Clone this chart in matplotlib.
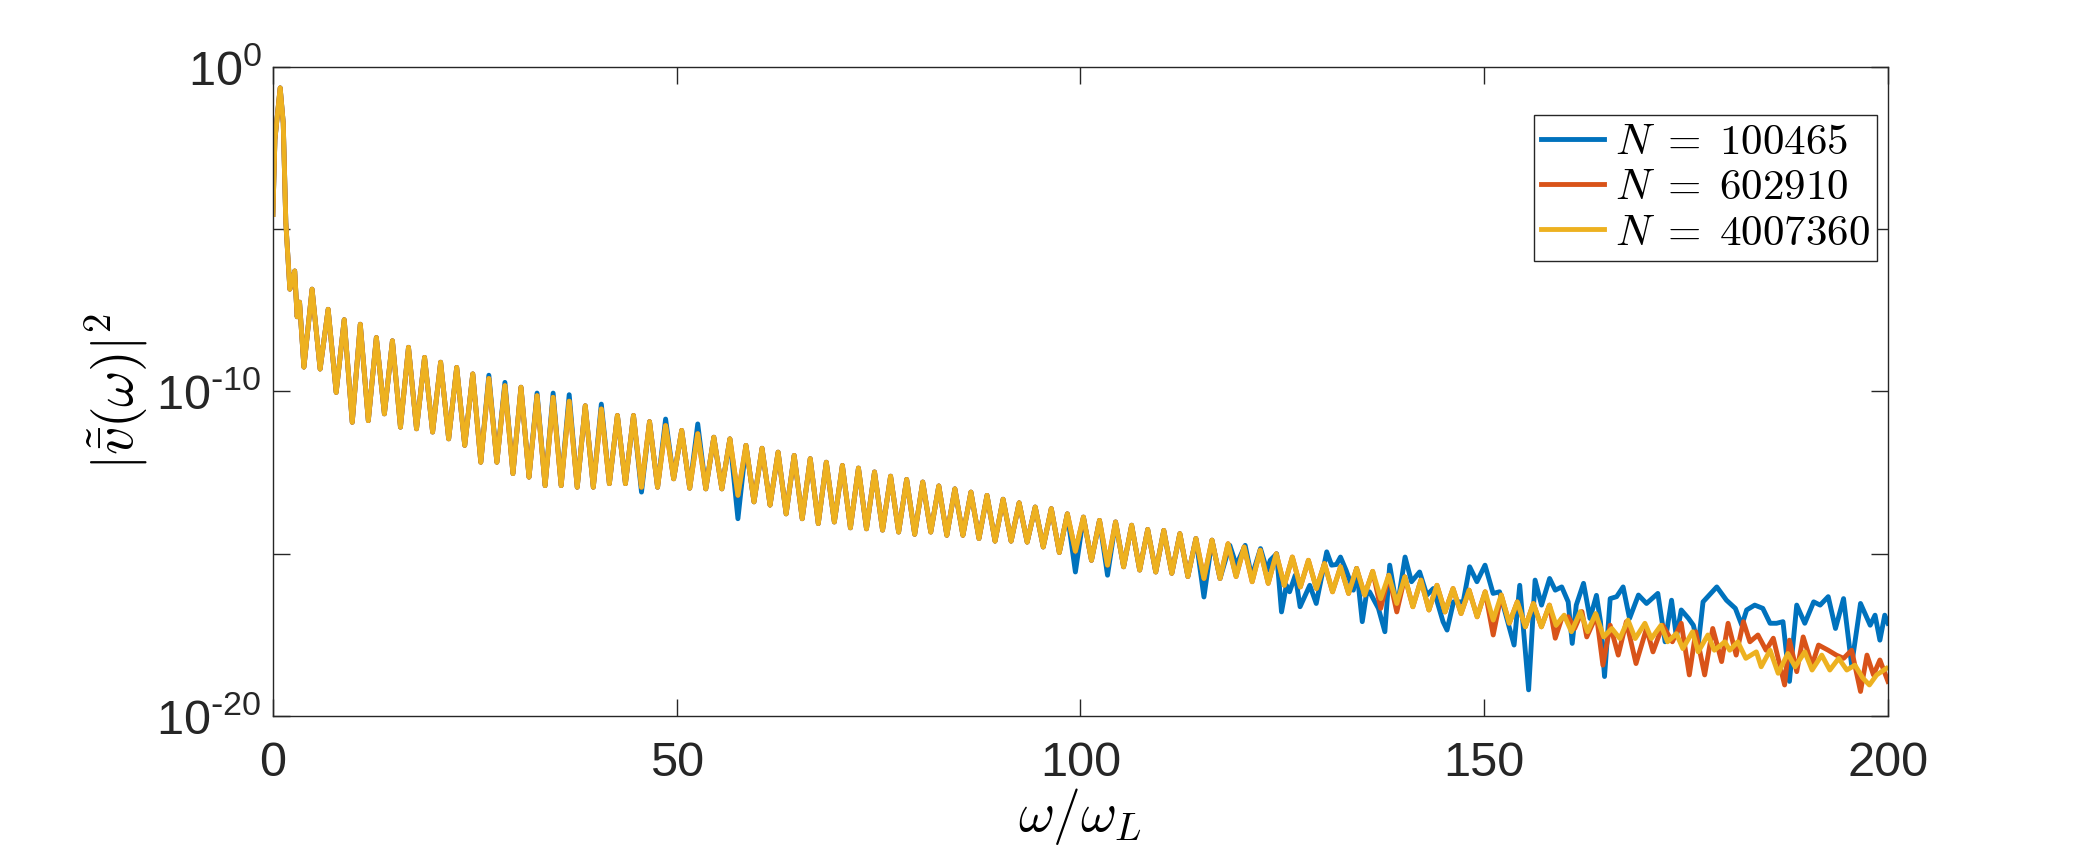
import matplotlib
matplotlib.use("Agg")
import matplotlib.pyplot as plt
import numpy as np

plt.rcParams['font.family'] = ['Liberation Sans', 'DejaVu Sans']

# --- data: log10 |v(w)|^2 ---
# steep start around the main peak
head_omega = [0.0, 0.25, 0.9, 1.28, 1.6, 2.1, 2.7, 3.0, 3.3, 3.84]
head_log = [-4.55, -2.24, -0.65, -1.73, -4.8, -6.85, -6.29, -7.7, -7.25, -9.25]

# oscillation maxima / minima (shared by all runs), spacing ~1.99 in w/w_L
peak_log = [-6.85, -7.47, -7.79, -7.93, -8.34, -8.44, -8.64, -8.95, -9.10, -9.26,
            -9.46, -9.60, -9.82, -9.87, -10.13, -10.18, -10.30, -10.44, -10.54, -10.74,
            -10.74, -10.93, -11.05, -11.20, -11.30, -11.41, -11.46, -11.66, -11.75, -11.87,
            -11.97, -12.07, -12.18, -12.28, -12.36, -12.48, -12.61, -12.71, -12.79, -12.91,
            -13.00, -13.10, -13.20, -13.32, -13.43, -13.56, -13.61, -13.77, -13.87, -13.97,
            -14.02, -14.12, -14.25, -14.28, -14.38, -14.53, -14.58, -14.69, -14.79, -14.89,
            -15.00, -15.10, -15.20, -15.30, -15.40, -15.45, -15.54, -15.66, -15.71, -15.81,
            -15.97, -16.07, -16.12, -16.17, -16.27, -16.48, -16.53, -16.58]
trough_log = [-9.31, -10.03, -10.95, -10.90, -10.69, -11.10, -11.15, -11.25, -11.46, -11.66,
              -12.18, -12.18, -12.53, -12.64, -12.90, -12.90, -12.95, -12.95, -12.84, -12.84,
              -12.95, -12.95, -12.69, -12.98, -13.00, -13.00, -13.20, -13.40, -13.50, -13.77,
              -13.92, -14.07, -14.02, -14.20, -14.23, -14.27, -14.33, -14.40, -14.33, -14.43,
              -14.43, -14.53, -14.61, -14.61, -14.64, -14.79, -14.96, -14.92, -15.20, -15.35,
              -15.40, -15.50, -15.56, -15.60, -15.70, -15.76, -15.76, -15.70, -15.86, -15.91,
              -15.97, -16.02, -16.07, -16.17, -16.22, -16.27, -16.38, -16.53, -16.63, -16.73,
              -16.79, -16.84, -16.94, -17.04, -17.14, -17.25, -17.25]
first_peak = 4.85
half_period = 0.995

# where N = 100465 departs from the others
blue_peak_fix = {11: -9.50, 12: -9.72, 14: -10.05, 15: -10.05, 16: -10.10,
                 18: -10.39, 22: -10.85, 24: -11.00}
blue_trough_fix = {20: -13.10, 26: -13.92, 47: -15.56, 49: -15.66, 55: -16.33}
red_trough_fix = {66: -16.68, 67: -16.79, 73: -17.50}

blue_tail_omega = [118.5, 119.3, 120.4, 121.2, 122.3, 123.1, 123.5, 124.3, 124.9, 125.5,
                   125.9, 126.6, 127.2, 128.4, 129.2, 130.5, 131.1, 131.7, 132.2, 132.9,
                   133.8, 134.2, 134.9, 135.4, 135.8, 136.9, 137.7, 138.3, 139.2, 140.2,
                   141.0, 142.0, 142.9, 143.7, 144.9, 145.4, 146.2, 147.4, 148.2, 149.1,
                   150.1, 151.1, 151.9, 152.8, 153.7, 154.4, 155.5, 156.3, 157.1, 158.1,
                   158.8, 159.6, 160.4, 160.9, 161.4, 162.3, 163.1, 163.9, 164.4, 164.9,
                   165.6, 166.4, 167.2, 168.0, 169.1, 170.1, 171.5, 172.4, 173.2, 173.8,
                   174.4, 175.3, 175.9, 176.5, 177.1, 178.8, 180.0, 181.1, 181.9, 182.5,
                   183.5, 184.5, 185.4, 186.2, 187.0, 187.8, 188.7, 189.7, 190.8, 191.6,
                   192.6, 193.5, 194.5, 195.5, 196.6, 197.8, 198.4, 199.0, 199.6, 200.0]
blue_tail_log = [-14.74, -15.35, -14.74, -15.71, -14.84, -15.51, -15.20, -15.00, -16.79, -15.97,
                 -16.17, -15.66, -16.63, -15.97, -16.53, -14.94, -15.35, -15.33, -15.10, -15.51,
                 -16.12, -15.45, -17.09, -16.27, -16.17, -16.68, -17.40, -15.35, -16.68, -15.10,
                 -15.86, -15.56, -16.27, -16.07, -17.09, -17.35, -16.48, -16.48, -15.40, -15.86,
                 -15.35, -16.22, -16.17, -16.99, -17.81, -15.97, -19.19, -15.81, -16.58, -15.76,
                 -16.12, -16.02, -16.48, -17.76, -16.58, -15.91, -16.99, -16.28, -17.09, -18.78,
                 -16.38, -16.32, -16.02, -16.99, -16.27, -16.53, -16.22, -17.71, -16.43, -17.56,
                 -16.73, -16.99, -17.20, -17.81, -16.48, -16.02, -16.43, -16.68, -17.20, -16.73,
                 -16.58, -16.68, -17.14, -17.14, -17.09, -18.93, -16.58, -17.14, -16.48, -16.58,
                 -16.32, -17.30, -16.38, -18.43, -16.53, -17.20, -16.89, -17.66, -16.89, -17.14]

red_tail_omega = [158.8, 159.6, 160.4, 161.2, 162.1, 162.7, 163.9, 164.7, 165.6, 166.6,
                  167.6, 168.8, 170.1, 170.9, 172.1, 173.3, 174.4, 175.4, 176.2, 177.3,
                  178.3, 179.4, 180.2, 181.2, 182.1, 182.9, 183.9, 184.9, 185.8, 187.2,
                  187.8, 188.7, 189.5, 190.6, 191.4, 192.6, 193.6, 194.5, 195.5, 196.6,
                  197.4, 198.2, 199.0, 200.0]
red_tail_log = [-17.60, -16.99, -16.94, -17.30, -16.78, -17.56, -16.89, -18.43, -17.20, -18.12,
                -17.09, -18.38, -17.30, -18.02, -17.20, -17.71, -17.14, -18.73, -17.40, -18.73,
                -17.30, -18.32, -17.14, -18.12, -17.09, -17.71, -17.50, -17.97, -17.60, -19.04,
                -17.66, -18.63, -17.56, -18.43, -17.81, -17.97, -18.12, -18.22, -17.97, -19.24,
                -18.12, -18.73, -18.27, -18.93]

yellow_tail_omega = [158.9, 159.9, 160.8, 161.9, 162.8, 163.8, 164.8, 165.8, 166.8, 167.8,
                     168.7, 169.9, 170.7, 171.9, 172.7, 173.8, 174.6, 175.8, 176.5, 177.7,
                     178.5, 179.8, 180.4, 181.4, 182.4, 183.7, 184.3, 185.4, 186.4, 187.6,
                     188.5, 189.7, 190.6, 191.8, 192.8, 193.9, 194.9, 195.9, 196.9, 197.7,
                     198.6, 199.8]
yellow_tail_log = [-17.20, -16.89, -17.40, -16.78, -17.40, -16.84, -17.56, -17.30, -17.61, -17.04,
                   -17.61, -17.14, -17.61, -17.20, -17.71, -17.46, -17.92, -17.40, -18.02, -17.50,
                   -17.97, -17.71, -17.97, -17.71, -18.22, -18.02, -18.48, -17.97, -18.68, -18.07,
                   -18.48, -18.02, -18.58, -18.12, -18.58, -18.22, -18.58, -18.43, -18.83, -19.04,
                   -18.73, -18.53]

labels = [r'$N\;=\;100465$', r'$N\;=\;602910$', r'$N\;=\;4007360$']
colors = ['#0072BD', '#D95319', '#EDB120']


def interleave(peaks, troughs):
    out = []
    for j in range(len(peaks)):
        out.append(peaks[j])
        if j < len(troughs):
            out.append(troughs[j])
    return np.array(out)


def fixed(vals, fixes):
    vals = list(vals)
    for k, v in fixes.items():
        vals[k] = v
    return vals


base_omega = first_peak + half_period * np.arange(len(peak_log) + len(trough_log))

blue_osc = interleave(fixed(peak_log, blue_peak_fix), fixed(trough_log, blue_trough_fix))
red_osc = interleave(peak_log, fixed(trough_log, red_trough_fix))
yellow_osc = interleave(peak_log, trough_log)

keep = base_omega < 118.0
blue_w = np.concatenate([head_omega, base_omega[keep], blue_tail_omega])
blue_y = np.concatenate([head_log, blue_osc[keep], blue_tail_log])
red_w = np.concatenate([head_omega, base_omega, red_tail_omega])
red_y = np.concatenate([head_log, red_osc, red_tail_log])
yel_w = np.concatenate([head_omega, base_omega, yellow_tail_omega])
yel_y = np.concatenate([head_log, yellow_osc, yellow_tail_log])

# --- figure ---
fig = plt.figure(figsize=(20.88, 8.67), dpi=100)
ax = fig.add_axes([0.1307, 0.174, 0.7735, 0.749])

for w, y, lab, c in zip([blue_w, red_w, yel_w], [blue_y, red_y, yel_y], labels, colors):
    ax.plot(w, 10.0 ** y, color=c, lw=3.5, label=lab, solid_joinstyle='round')

ax.set_yscale('log')
ax.set_xlim(0, 200)
ax.set_ylim(1e-20, 1e0)
ax.set_xticks([0, 50, 100, 150, 200])
ax.set_xticklabels(['0', '50', '100', '150', '200'])
ax.set_yticks([1e-20, 1e-15, 1e-10, 1e-5, 1e0])
ax.set_yticklabels([r'$\mathregular{10^{\text{-}20}}$', '', r'$\mathregular{10^{\text{-}10}}$', '',
                    r'$\mathregular{10^{0}}$'])
ax.minorticks_off()
ax.tick_params(direction='in', length=12, width=1.0, colors='0.15', labelsize=35,
               top=True, right=True)
ax.tick_params(axis='y', pad=8)
ax.tick_params(axis='x', pad=18)
for s in ax.spines.values():
    s.set_color('0.15')
    s.set_linewidth(1.0)

ax.set_xlabel(r'$\omega/\omega_L$', fontsize=40, math_fontfamily='cm', labelpad=0)
ax.set_ylabel(r'$|\tilde{\bar{v}}(\omega)|^2$', fontsize=40, math_fontfamily='cm', labelpad=4)

leg = ax.legend(loc='upper right', bbox_to_anchor=(0.9935, 0.925), fontsize=31,
                frameon=True, fancybox=False, edgecolor='0.15', framealpha=1,
                handlelength=1.45, handletextpad=0.25, labelspacing=0.12,
                borderpad=0.18, borderaxespad=0)
leg.get_frame().set_linewidth(1.0)
for t in leg.get_texts():
    t.set_math_fontfamily('cm')

fig.savefig('out.png', dpi=100)
